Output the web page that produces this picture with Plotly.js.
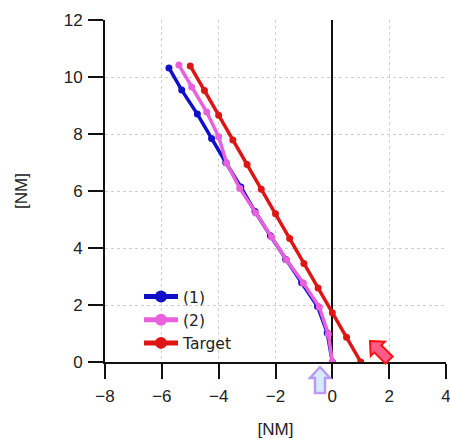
<!DOCTYPE html>
<html>
<head>
<meta charset="utf-8">
<script src="https://cdn.plot.ly/plotly-3.0.1.min.js"></script>
<style>html,body{margin:0;padding:0;background:#fff;}#chart{width:450px;height:439px;}</style>
</head>
<body>
<div id="chart"></div>
<script>
// Series data (NM)
const seriesNames = ["(1)", "(2)", "Target"];
const s1X = [-5.75, -5.3, -4.75, -4.25, -3.75, -3.22, -2.72, -2.18, -1.64, -1.08, -0.52, -0.18, 0];
const s1Y = [10.32, 9.54, 8.7, 7.84, 7.0, 6.14, 5.28, 4.43, 3.6, 2.78, 1.95, 1.02, 0];
const s2X = [-5.4, -4.95, -4.42, -4.0, -3.72, -3.26, -2.7, -2.14, -1.61, -1.02, -0.46, -0.14, 0];
const s2Y = [10.42, 9.65, 8.77, 7.9, 6.98, 6.1, 5.23, 4.39, 3.58, 2.77, 1.93, 0.98, 0];
const tgtX = [1, 0.5, 0, -0.5, -1, -1.5, -2, -2.5, -3, -3.5, -4, -4.5, -5];
const tgtY = [0, 0.87, 1.73, 2.6, 3.46, 4.33, 5.2, 6.06, 6.93, 7.79, 8.66, 9.53, 10.39];
const xTicks = [-8, -6, -4, -2, 0, 2, 4];
const yTicks = [0, 2, 4, 6, 8, 10, 12];
const colors = ["#1010c8", "#e860dc", "#dd1515"];

const FONT = "Liberation Sans, Arial, sans-serif";
const M = {l: 105, r: 4, t: 20, b: 77};
const W = 450, H = 439;
const PW = W - M.l - M.r, PH = H - M.t - M.b;
function px(x){ return (x - M.l) / PW; }
function py(y){ return (M.t + PH - y) / PH; }
function pathFromPixels(pts){
  return pts.map((p,i)=> (i? 'L':'M') + px(p[0]).toFixed(4) + ',' + py(p[1]).toFixed(4)).join(' ') + ' Z';
}
// decorative block arrows (pixel geometry)
function blockArrow(tip, dir, headLen, headHalf, shaftHalf, len){
  const u = [dir[0], dir[1]];
  const n = [u[1], -u[0]];
  const B = [tip[0] + headLen*u[0], tip[1] + headLen*u[1]];
  const E = [tip[0] + len*u[0], tip[1] + len*u[1]];
  return [
    tip,
    [B[0] + headHalf*n[0], B[1] + headHalf*n[1]],
    [B[0] + shaftHalf*n[0], B[1] + shaftHalf*n[1]],
    [E[0] + shaftHalf*n[0], E[1] + shaftHalf*n[1]],
    [E[0] - shaftHalf*n[0], E[1] - shaftHalf*n[1]],
    [B[0] - shaftHalf*n[0], B[1] - shaftHalf*n[1]],
    [B[0] - headHalf*n[0], B[1] - headHalf*n[1]]
  ];
}
const r2 = Math.SQRT1_2;
const redArrow = blockArrow([370, 341], [r2, r2], 11, 10, 5, 27);
const purpleArrow = blockArrow([320, 367], [0, 1], 11, 10, 5, 26);

function trace(x, y, i){
  return {
    x: x, y: y, name: seriesNames[i], type: 'scatter', mode: 'lines+markers',
    line: {color: colors[i], width: 3.5},
    marker: {color: colors[i], size: 7}
  };
}
const data = [trace(s1X, s1Y, 0), trace(s2X, s2Y, 1), trace(tgtX, tgtY, 2)];

const axisFont = {family: FONT, size: 17, color: '#222'};
const layout = {
  width: W, height: H,
  margin: M,
  paper_bgcolor: '#fff', plot_bgcolor: '#fff',
  font: {family: FONT, size: 17, color: '#222'},
  showlegend: true,
  legend: {x: px(139), y: py(280), xanchor: 'left', yanchor: 'top', bgcolor: 'rgba(0,0,0,0)',
           font: {family: "DejaVu Sans, sans-serif", size: 15.5, color: '#222'}, tracegroupgap: 0,
           itemsizing: 'constant', itemwidth: 34},
  xaxis: {
    range: [-8, 4], tickvals: xTicks, ticktext: xTicks.map(v => v < 0 ? '\u2212' + Math.abs(v) : String(v)),
    showline: true, linecolor: '#111', linewidth: 2,
    ticks: 'outside', ticklen: 15, tickwidth: 2, tickcolor: '#111',
    showgrid: true, gridcolor: '#cfcfcf', griddash: 'dot', gridwidth: 1,
    zeroline: true, zerolinecolor: '#111', zerolinewidth: 2,
    ticklabeloverflow: 'allow', ticklabelstandoff: 3,
    title: {text: '[NM]', font: axisFont, standoff: 18},
    tickfont: axisFont, fixedrange: true
  },
  yaxis: {
    range: [0, 12], tickvals: yTicks,
    showline: true, linecolor: '#111', linewidth: 2,
    ticks: 'outside', ticklen: 15, tickwidth: 2, tickcolor: '#111',
    showgrid: true, gridcolor: '#cfcfcf', griddash: 'dot', gridwidth: 1,
    zeroline: false, ticklabelstandoff: 2,
    title: {text: '[NM]', font: axisFont, standoff: 32},
    tickfont: axisFont, fixedrange: true
  },
  shapes: [
    {type: 'path', xref: 'paper', yref: 'paper', path: pathFromPixels(redArrow),
     fillcolor: '#ff5c8a', line: {color: '#ff1010', width: 2}, layer: 'above'},
    {type: 'path', xref: 'paper', yref: 'paper', path: pathFromPixels(purpleArrow),
     fillcolor: '#d6ecfa', line: {color: '#b99af5', width: 2.5}, layer: 'above'}
  ]
};
Plotly.newPlot('chart', data, layout, {staticPlot: true, displayModeBar: false});
</script>
</body>
</html>
